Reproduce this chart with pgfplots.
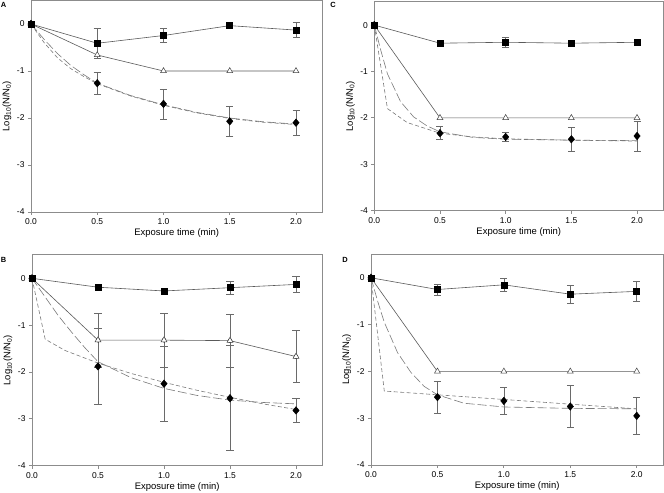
\documentclass[border=0pt]{standalone}
\usepackage{fontspec}
\setmainfont{Liberation Sans}
\usepackage{pgfplots}
\pgfplotsset{compat=1.18}

\definecolor{linegray}{HTML}{5A5A5A}
\definecolor{dashgray}{HTML}{7A7A7A}
\definecolor{boxgray}{HTML}{8C8C8C}
\definecolor{errgray}{HTML}{6A6A6A}

\pgfplotsset{
  panel/.style={
    scale only axis, anchor=south west,
    xmin=0, xmax=2.2, ymin=-4, ymax=0.5,
    xtick={0,0.5,1,1.5,2}, ytick={-4,-3,-2,-1,0},
    xticklabel style={/pgf/number format/.cd, fixed, fixed zerofill, precision=1},
    /pgf/number format/assume math mode=true,
    tick align=outside, tick pos=left, major tick length=3bp,
    axis line style={boxgray, line width=0.8bp},
    every tick/.style={boxgray, line width=0.8bp},
    ticklabel style={font=\fontsize{8.5}{9.5}\selectfont},
    label style={font=\fontsize{9.5}{11}\selectfont},
    xlabel={Exposure time (min)},
    ylabel={Log\textsubscript{10}(N/N\textsubscript{0})},
    xlabel style={at={(axis description cs:0.5,-0.10)}, anchor=center},
    ylabel style={at={(axis description cs:-0.083,0.5)}, anchor=center, inner sep=0pt},
    clip=false,
  },
  errb/.style={only marks, mark=none,
    error bars/.cd, y dir=both, y explicit,
    error bar style={errgray, line width=0.6bp},
    error mark options={errgray, rotate=90, mark size=3.5bp, line width=0.6bp}},
  sqline/.style={linegray, line width=0.6bp, mark=square*,
    mark options={solid, fill=black, draw=black, mark size=3bp}},
  triline/.style={linegray, line width=0.6bp, mark=triangle*,
    mark options={solid, fill=white, draw=black!75, mark size=3.4bp, line width=0.5bp}},
  dia/.style={only marks, mark=diamond*,
    mark options={fill=black, draw=black, mark size=3.8bp, xscale=1.12}},
  longd/.style={dashgray, line width=0.6bp, dash pattern=on 9bp off 3bp, mark=none},
  shortd/.style={dashgray, line width=0.6bp, dash pattern=on 4bp off 2.5bp, mark=none},
}

\begin{document}
\begin{tikzpicture}

% ---------------- Panel A ----------------
\begin{axis}[panel, at={(31bp,281bp)}, width=291.5bp, height=211.5bp]
\addplot[errb] coordinates {(0.5,-0.41) +- (0,0.32) (1.0,-0.245) +- (0,0.15) (2.0,-0.13) +- (0,0.16)};
\addplot[errb] coordinates {(0.5,-1.26) +- (0,0.24) (1.0,-1.70) +- (0,0.32) (1.5,-2.07) +- (0,0.31) (2.0,-2.10) +- (0,0.27)};
\addplot[longd] coordinates {(0,0) (0.1,-0.33) (0.2,-0.63) (0.3,-0.88) (0.4,-1.08) (0.5,-1.26) (0.75,-1.52) (1.0,-1.72) (1.25,-1.88) (1.5,-2.00) (1.75,-2.08) (2.0,-2.13)};
\addplot[shortd] coordinates {(0,0) (0.1,-0.40) (0.2,-0.72) (0.3,-0.95) (0.4,-1.12) (0.5,-1.27) (0.75,-1.53) (1.0,-1.73) (1.25,-1.89) (1.5,-2.01) (1.75,-2.09) (2.0,-2.14)};
\addplot[triline] coordinates {(0,0) (0.5,-0.66) (1.0,-1.0) (1.5,-1.0) (2.0,-1.0)};
\addplot[sqline] coordinates {(0,0) (0.5,-0.41) (1.0,-0.245) (1.5,-0.035) (2.0,-0.13)};
\addplot[dia] coordinates {(0,0) (0.5,-1.26) (1.0,-1.70) (1.5,-2.07) (2.0,-2.10)};
\end{axis}

% ---------------- Panel B ----------------
\begin{axis}[panel, at={(32bp,27.3bp)}, width=290.4bp, height=210.8bp]
\addplot[errb] coordinates {(1.5,-0.20) +- (0,0.14) (2.0,-0.13) +- (0,0.17)};
\addplot[errb] coordinates {(0.5,-1.32) +- (0,0.57) (1.0,-1.32) +- (0,0.57) (1.5,-1.33) +- (0,0.57) (2.0,-1.67) +- (0,0.56)};
\addplot[errb] coordinates {(0.5,-1.88) +- (0,0.81) (1.0,-2.25) +- (0,0.80) (1.5,-2.56) +- (0,1.12) (2.0,-2.82) +- (0,0.26)};
\addplot[longd] coordinates {(0,0) (0.1,-0.40) (0.2,-0.80) (0.3,-1.15) (0.4,-1.48) (0.5,-1.78) (0.75,-2.12) (1.0,-2.35) (1.25,-2.50) (1.5,-2.60) (1.75,-2.65) (2.0,-2.68)};
\addplot[shortd] coordinates {(0,0) (0.1,-1.30) (0.25,-1.54) (0.5,-1.81) (0.75,-2.03) (1.0,-2.22) (1.25,-2.39) (1.5,-2.54) (1.75,-2.68) (2.0,-2.80)};
\addplot[triline] coordinates {(0,0) (0.5,-1.32) (1.0,-1.32) (1.5,-1.33) (2.0,-1.67)};
\addplot[sqline] coordinates {(0,0) (0.5,-0.19) (1.0,-0.27) (1.5,-0.20) (2.0,-0.13)};
\addplot[dia] coordinates {(0,0) (0.5,-1.88) (1.0,-2.25) (1.5,-2.56) (2.0,-2.82)};
\end{axis}

% ---------------- Panel C ----------------
\begin{axis}[panel, at={(374.3bp,282.3bp)}, width=289bp, height=208.8bp]
\addplot[errb] coordinates {(1.0,-0.37) +- (0,0.11)};
\addplot[errb] coordinates {(0.5,-2.33) +- (0,0.14) (1.0,-2.41) +- (0,0.09) (1.5,-2.46) +- (0,0.26) (2.0,-2.39) +- (0,0.32)};
\addplot[longd] coordinates {(0,0) (0.05,-0.55) (0.1,-1.05) (0.2,-1.65) (0.3,-1.98) (0.4,-2.17) (0.5,-2.30) (0.75,-2.42) (1.0,-2.46) (1.5,-2.48) (2.0,-2.49)};
\addplot[shortd] coordinates {(0,0) (0.1,-1.80) (0.25,-2.10) (0.5,-2.33) (0.75,-2.41) (1.0,-2.45) (1.5,-2.48) (2.0,-2.50)};
\addplot[triline] coordinates {(0,0) (0.5,-2.0) (1.0,-2.0) (1.5,-2.0) (2.0,-2.0)};
\addplot[sqline] coordinates {(0,0) (0.5,-0.39) (1.0,-0.37) (1.5,-0.39) (2.0,-0.37)};
\addplot[dia] coordinates {(0,0) (0.5,-2.33) (1.0,-2.41) (1.5,-2.46) (2.0,-2.39)};
\end{axis}

% ---------------- Panel D ----------------
\begin{axis}[panel, at={(371bp,28bp)}, width=292.3bp, height=210.6bp]
\addplot[errb] coordinates {(0.5,-0.25) +- (0,0.12) (1.0,-0.15) +- (0,0.14) (1.5,-0.35) +- (0,0.20) (2.0,-0.29) +- (0,0.21)};
\addplot[errb] coordinates {(0.5,-2.55) +- (0,0.34) (1.0,-2.63) +- (0,0.29) (1.5,-2.75) +- (0,0.45) (2.0,-2.95) +- (0,0.40)};
\addplot[longd] coordinates {(0,0) (0.05,-0.50) (0.1,-0.95) (0.2,-1.60) (0.3,-2.02) (0.4,-2.32) (0.5,-2.50) (0.7,-2.68) (1.0,-2.76) (1.5,-2.79) (2.0,-2.80)};
\addplot[shortd] coordinates {(0,0) (0.1,-2.42) (2.0,-2.80)};
\addplot[triline] coordinates {(0,0) (0.5,-2.0) (1.0,-2.0) (1.5,-2.0) (2.0,-2.0)};
\addplot[sqline] coordinates {(0,0) (0.5,-0.25) (1.0,-0.15) (1.5,-0.35) (2.0,-0.29)};
\addplot[dia] coordinates {(0,0) (0.5,-2.55) (1.0,-2.63) (1.5,-2.75) (2.0,-2.95)};
\end{axis}

\node[font=\fontsize{7.5}{8}\bfseries\selectfont] at (3.5bp,488.5bp) {A};
\node[font=\fontsize{7.5}{8}\bfseries\selectfont] at (3.5bp,233bp) {B};
\node[font=\fontsize{7.5}{8}\bfseries\selectfont] at (333bp,488bp) {C};
\node[font=\fontsize{7.5}{8}\bfseries\selectfont] at (345bp,233bp) {D};

\pgfresetboundingbox
\path[use as bounding box] (0,0) rectangle (664bp,493bp);
\end{tikzpicture}
\end{document}
